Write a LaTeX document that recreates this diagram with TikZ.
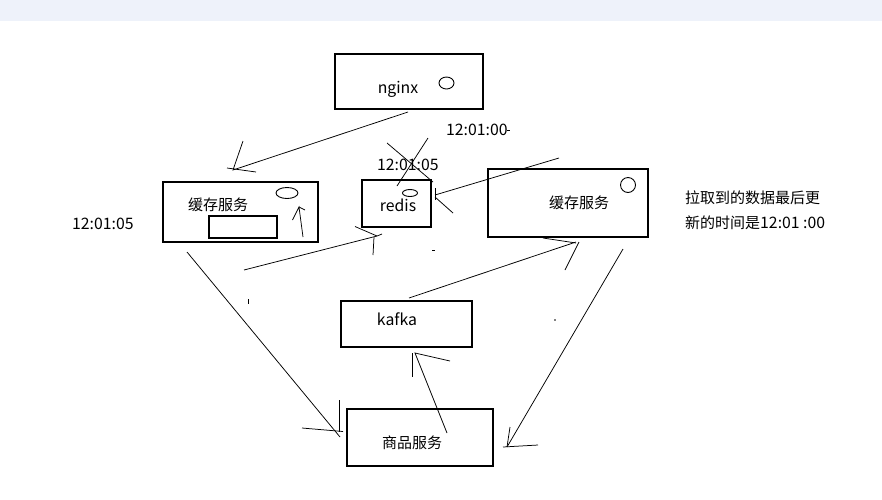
\documentclass[tikz,border=0pt]{standalone}
\usepackage{fontspec}
\setmainfont{Noto Sans CJK SC}
\definecolor{topband}{RGB}{238,242,250}
\begin{document}
\begin{tikzpicture}[x=1pt,y=-1pt,
  box/.style={draw, line width=1.1pt, inner sep=0pt},
  lbl/.style={inner sep=0pt, font=\fontsize{15}{18}\selectfont},
  lat/.style={inner sep=0pt, font=\fontsize{15.8}{18}\selectfont},
  ln/.style={line width=0.75pt},
  stray/.style={line width=0.75pt}]
\useasboundingbox (0,0) rectangle (882,499);
\fill[topband] (0,0) rectangle (882,21);

% boxes
\node[box, minimum width=148pt, minimum height=55pt] (nginx) at (409,81.5) {};
\node[box, minimum width=155pt, minimum height=60pt] (leftc) at (240.5,212) {};
\node[box, minimum width=68pt, minimum height=22pt] (inner) at (243,227) {};
\node[box, minimum width=69pt, minimum height=47pt] (redis) at (396.5,203.5) {};
\node[box, minimum width=160pt, minimum height=68pt] (rightc) at (568,203) {};
\node[box, minimum width=131pt, minimum height=46pt] (kafka) at (406.5,324) {};
\node[box, minimum width=146pt, minimum height=57pt] (goods) at (420,437.5) {};

% small ellipses
\draw[line width=0.9pt] (446.5,83) ellipse [x radius=7.5, y radius=6];
\draw[line width=0.9pt] (287,193) ellipse [x radius=11, y radius=5.5];
\draw[line width=0.9pt] (410,193) ellipse [x radius=7.5, y radius=3.5];
\draw[line width=0.9pt] (628,185) circle [radius=7.5];

% labels
\node[lat, anchor=base] (tnginx) at (398,93) {nginx};
\node[lat, anchor=base] (tredis) at (398,211) {redis};
\node[lat, anchor=base] (tkafka) at (397,325) {kafka};
\node[lbl] (tleftc) at (218,205) {缓存服务};
\node[lbl] (trightc) at (579,202.7) {缓存服务};
\node[lbl] (tgoods) at (412,442.7) {商品服务};
\node[lat, anchor=base west] (t1) at (446,135) {12:01:00};
\node[lat, anchor=base west] (t2) at (377,170) {12:01:05};
\node[lat, anchor=base west] (t3) at (72,229) {12:01:05};
\node[lbl, anchor=west] (n1) at (685,198) {拉取到的数据最后更};
\node[lbl, anchor=west] (n2) at (685,222.7) {新的时间是{\fontsize{15.8}{18}\selectfont 12:01 :00}};

% arrow 1: nginx -> left cache
\coordinate (a1s) at (408,112);
\coordinate (a1t) at (233,170);
\draw[ln] (a1s) -- (a1t) -- ++(10,-29);
\draw[ln] (a1t) ++(-6,-2) -- ++(29,4);

% arrow 2: -> redis
\coordinate (a2s) at (244,270);
\coordinate (a2t) at (377,236);
\draw[ln] (a2s) -- (a2t);
\draw[ln] (a2t) ++(-22,-9.5) -- (a2t) -- ++(5,-2);
\draw[ln] (a2t) ++(-3,1) -- ++(-1,18);

% arrow 3: right cache -> redis
\coordinate (a3s) at (559,158);
\coordinate (a3t) at (435,195);
\draw[ln] (a3s) -- (a3t);
\draw[ln] (a3t) ++(0,-7) -- ++(0,12);
\draw[ln] (a3t) ++(0,2) -- ++(18,16);

% cross over redis
\coordinate (x1) at (387,143);
\coordinate (x2) at (433,182);
\coordinate (x3) at (428,138);
\coordinate (x4) at (397,186);
\draw[ln] (x1) -- (x2);
\draw[ln] (x3) -- (x4);

% arrow 4: kafka -> right cache
\coordinate (a4s) at (409,298);
\coordinate (a4t) at (576,242);
\draw[ln] (a4s) -- (a4t);
\draw[ln] (a4t) ++(-33,-4) -- ++(33,5);
\draw[ln] (a4t) ++(3,0) -- ++(-14,28);

% arrow 5: right cache -> goods
\coordinate (a5s) at (623,249);
\coordinate (a5t) at (507,447);
\draw[ln] (a5s) -- (a5t);
\draw[ln] (a5t) ++(3,-20) -- (a5t);
\draw[ln] (a5t) ++(-4,0) -- ++(35,-2);

% arrow 6: left cache -> goods
\coordinate (a6s) at (187,252);
\coordinate (a6t) at (340,437);
\draw[ln] (a6s) -- (a6t);
\draw[ln] (a6t) ++(-0.5,-37) -- ++(0,32);
\draw[ln] (a6t) ++(-38,-9) -- ++(41,3.5);

% arrow 7: goods -> kafka
\coordinate (a7s) at (447,433);
\coordinate (a7t) at (415,353);
\draw[ln] (a7s) -- (a7t) -- ++(35,8);
\draw[ln] (a7t) ++(-3,0) -- ++(0,24);

% arrow inside left cache
\coordinate (a8s) at (303,237);
\coordinate (a8t) at (299,207);
\draw[ln] (a8s) -- (a8t) -- ++(-6.5,13);
\draw[ln] (a8t) -- ++(6,3);

% stray marks
\draw[stray] (432,250.5) -- (435,250.5);
\draw[stray] (248,299) -- (248,304);
\fill (555,320) circle [radius=0.8];
\draw[stray] (507,130.5) -- (509.5,130.5);
\end{tikzpicture}
\end{document}
